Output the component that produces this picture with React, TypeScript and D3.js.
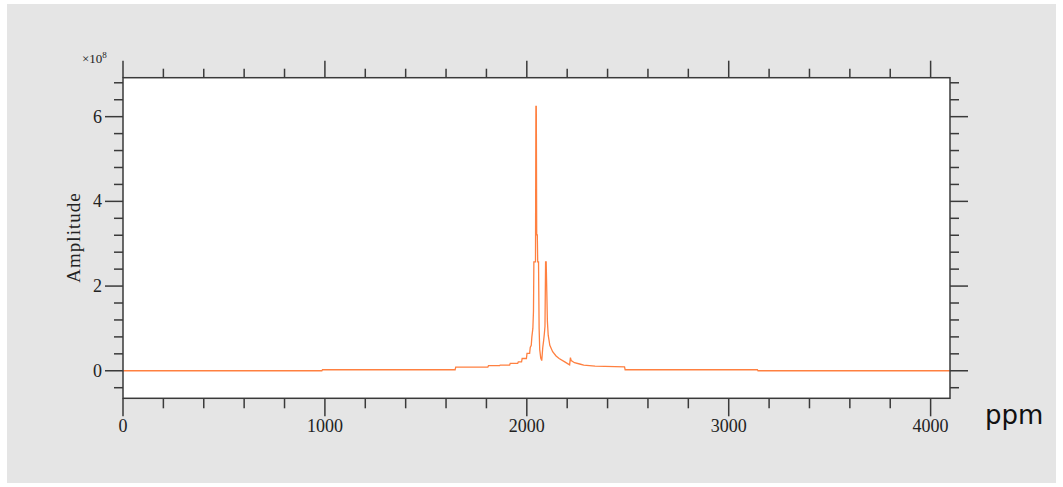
import React from "react";
import * as d3 from "d3";

// ---- data (ppm vs amplitude ×10^8) ----
const ppm = [
  0, 985, 988, 1645, 1648, 1807, 1810, 1865, 1868, 1915, 1918, 1955, 1958, 1974, 1977,
  1998, 2001, 2014, 2017, 2022, 2025, 2030, 2033, 2035, 2043, 2045, 2047, 2049, 2052,
  2054, 2058, 2061, 2064, 2069, 2074, 2079, 2083, 2087, 2090, 2093, 2096, 2099, 2102,
  2106, 2114, 2128, 2145, 2160, 2188, 2212, 2216, 2220, 2236, 2262, 2282, 2338, 2484,
  2487, 3142, 3145, 4096,
];
const amplitude = [
  0, 0, 0.024, 0.024, 0.085, 0.085, 0.12, 0.12, 0.135, 0.135, 0.175, 0.175, 0.21, 0.21, 0.29,
  0.29, 0.41, 0.41, 0.55, 0.6, 0.8, 1.0, 1.4, 2.57, 2.57, 6.24, 6.24, 3.21, 3.21,
  2.57, 2.57, 1.0, 0.5, 0.3, 0.24, 0.55, 0.7, 0.88, 1.05, 2.57, 2.57, 1.87, 1.16,
  0.84, 0.6, 0.45, 0.35, 0.29, 0.21, 0.14, 0.31, 0.24, 0.19, 0.16, 0.135, 0.11, 0.094,
  0.024, 0.024, 0, 0,
];
const xTickLabels = ["0", "1000", "2000", "3000", "4000"];
const xTickValues = [0, 1000, 2000, 3000, 4000];
const yTickLabels = ["0", "2", "4", "6"];
const yTickValues = [0, 2, 4, 6];
const xDomain = [0, 4096];
const yDomain = [-0.65, 6.92];

const W = 1063;
const H = 487;
const left = 123;
const right = 950;
const top = 77.7;
const bottom = 398.3;

const serif = "'Liberation Serif', 'Times New Roman', serif";
const axisColor = "#3a3a3a";
const textColor = "#222";

export default function App() {
  const x = d3.scaleLinear().domain(xDomain).range([left, right]);
  const y = d3.scaleLinear().domain(yDomain).range([bottom, top]);
  const pts = ppm.map((p, i) => [p, amplitude[i]] as [number, number]);
  const line = d3
    .line<[number, number]>()
    .x((d) => x(d[0]))
    .y((d) => y(d[1]));

  const xMinor = d3.range(0, 4001, 200).filter((v) => v % 1000 !== 0);
  const yMinor = d3.range(-0.4, 6.81, 0.4).filter((v) => Math.abs(v / 2 - Math.round(v / 2)) > 1e-6);

  return (
    <svg
      width={W}
      height={H}
      style={{ position: "absolute", left: 0, top: 0, display: "block" }}
    >
      <rect x={0} y={0} width={W} height={H} fill="#ffffff" />
      <rect x={7} y={4} width={1049} height={479} fill="#e5e5e5" />
      <rect x={left} y={top} width={right - left} height={bottom - top} fill="#ffffff" />
      <defs>
        <clipPath id="plotclip">
          <rect x={left} y={top} width={right - left} height={bottom - top} />
        </clipPath>
      </defs>
      <path
        d={line(pts) || ""}
        fill="none"
        stroke="#ff8040"
        strokeWidth={1.3}
        clipPath="url(#plotclip)"
      />
      {/* frame */}
      <rect
        x={left}
        y={top}
        width={right - left}
        height={bottom - top}
        fill="none"
        stroke={axisColor}
        strokeWidth={1.5}
      />
      {/* x major ticks */}
      {xTickValues.map((v, i) => (
        <g key={"xm" + v}>
          <line x1={x(v)} x2={x(v)} y1={bottom} y2={bottom + 18} stroke={axisColor} strokeWidth={1.5} />
          <line x1={x(v)} x2={x(v)} y1={top} y2={top - 17} stroke={axisColor} strokeWidth={1.5} />
          <text
            x={x(v)}
            y={431.5}
            textAnchor="middle"
            fontFamily={serif}
            fontSize={18}
            fill={textColor}
          >
            {xTickLabels[i]}
          </text>
        </g>
      ))}
      {xMinor.map((v) => (
        <g key={"xn" + v}>
          <line x1={x(v)} x2={x(v)} y1={bottom} y2={bottom + 10} stroke={axisColor} strokeWidth={1.5} />
          <line x1={x(v)} x2={x(v)} y1={top} y2={top - 9} stroke={axisColor} strokeWidth={1.5} />
        </g>
      ))}
      {/* y major ticks */}
      {yTickValues.map((v, i) => (
        <g key={"ym" + v}>
          <line x1={left} x2={left - 18} y1={y(v)} y2={y(v)} stroke={axisColor} strokeWidth={1.5} />
          <line x1={right} x2={right + 18} y1={y(v)} y2={y(v)} stroke={axisColor} strokeWidth={1.5} />
          <text
            x={102}
            y={y(v) + 6}
            textAnchor="end"
            fontFamily={serif}
            fontSize={18}
            fill={textColor}
          >
            {yTickLabels[i]}
          </text>
        </g>
      ))}
      {yMinor.map((v) => (
        <g key={"yn" + v.toFixed(1)}>
          <line x1={left} x2={left - 9} y1={y(v)} y2={y(v)} stroke={axisColor} strokeWidth={1.5} />
          <line x1={right} x2={right + 9} y1={y(v)} y2={y(v)} stroke={axisColor} strokeWidth={1.5} />
        </g>
      ))}
      {/* exponent */}
      <text x={82} y={63} fontFamily={serif} fontSize={13} fill={textColor}>
        ×10
        <tspan fontSize={9} dy={-5}>8</tspan>
      </text>
      {/* y label */}
      <text
        transform={`translate(79.5, 237.5) rotate(-90)`}
        textAnchor="middle"
        fontFamily={serif}
        fontSize={19}
        letterSpacing={1}
        fill={textColor}
      >
        Amplitude
      </text>
      {/* x label */}
      <text x={985} y={424} fontFamily="'DejaVu Sans', sans-serif" fontSize={26} fill="#111">
        ppm
      </text>
    </svg>
  );
}
